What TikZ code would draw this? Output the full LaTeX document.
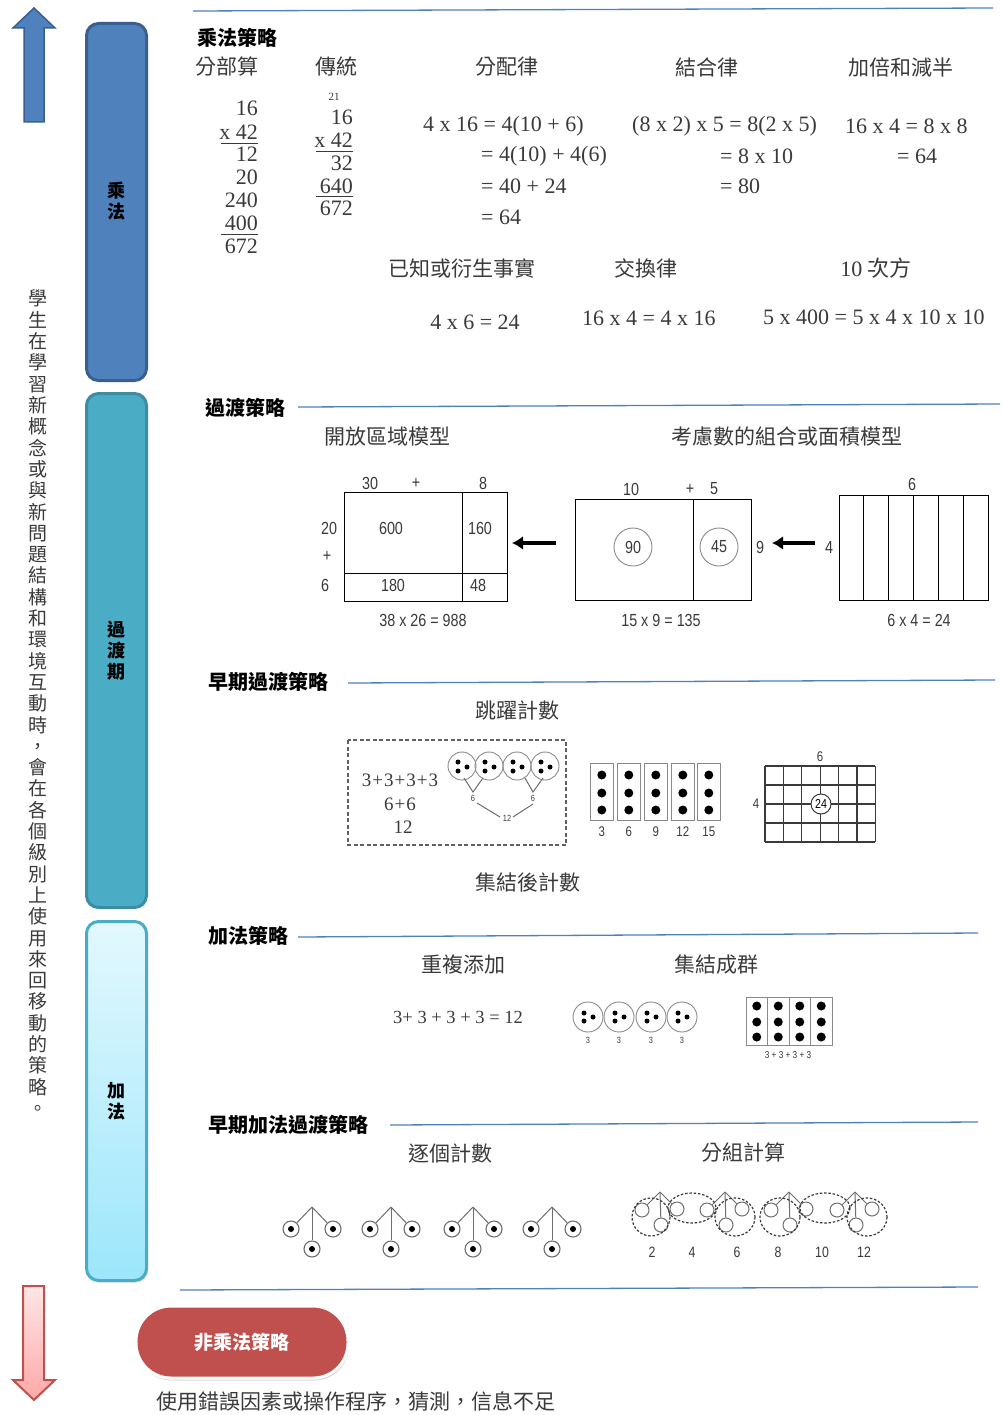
\documentclass[tikz,border=0pt]{standalone}
\usepackage{fontspec}
\setmainfont{Liberation Serif}
\setsansfont{Liberation Sans}
\newfontfamily\cjk{Noto Sans CJK TC}
\newfontfamily\areafont{Liberation Sans}[FakeStretch=0.82]
\usetikzlibrary{shadows,arrows.meta}

\definecolor{mulblue}{HTML}{4F81BD}
\definecolor{mulblueD}{HTML}{3A5F8E}
\definecolor{tranteal}{HTML}{4BACC6}
\definecolor{tranD}{HTML}{3C8DA3}
\definecolor{addtop}{HTML}{E3F8FE}
\definecolor{addbot}{HTML}{9CE6FB}
\definecolor{addedge}{HTML}{4BACC6}
\definecolor{rulecol}{HTML}{4F81BD}
\definecolor{pillred}{HTML}{C0504D}
\definecolor{pinktop}{HTML}{FFE6E6}
\definecolor{pinkbot}{HTML}{FFA8A8}
\definecolor{inkgray}{HTML}{3A3A3A}
\definecolor{ringgray}{HTML}{8A8A8A}

\begin{document}
\begin{tikzpicture}[x=1pt,y=-1pt,
  hdr/.style={font=\cjk\bfseries\fontsize{20}{20}\selectfont, anchor=west, inner sep=0},
  lbl/.style={font=\cjk\fontsize{21}{21}\selectfont, inner sep=0, text=inkgray},
  eq/.style={font=\fontsize{22}{22}\selectfont, inner sep=0, text=inkgray},
  small/.style={font=\fontsize{11}{11}\selectfont, inner sep=0, text=inkgray},
  area/.style={font=\areafont\fontsize{17.5}{17.5}\selectfont, inner sep=0, text=inkgray},
  tiny/.style={font=\areafont\fontsize{11}{11}\selectfont, inner sep=0, text=inkgray},
  rulel/.style={draw=rulecol, line width=1.3pt},
  barlbl/.style={font=\cjk\bfseries\fontsize{18}{21}\selectfont, align=center, inner sep=0},
  ring/.style={circle, draw=ringgray, line width=0.9pt, inner sep=0},
  dotc/.style={circle, fill=black, inner sep=0, minimum size=#1},
  bigarrow/.style={line width=3.5pt, -{Latex[length=11pt,width=14pt]}},
  twig/.style={draw=ringgray!80!black, line width=1pt},
  grp/.style={draw=inkgray, line width=1.2pt, dash pattern=on 2.5pt off 1.8pt}
]
\useasboundingbox (0,0) rectangle (1003,1415);
\fill[white] (0,0) rectangle (1003,1415);

% ---------- side arrows ----------
\draw[fill=mulblue, draw=mulblueD, line width=1.5pt]
  (24,122) -- (24,28) -- (13,28) -- (34,8) -- (55,28) -- (44,28) -- (44,122) -- cycle;
\draw[top color=pinktop, bottom color=pinkbot, draw=pillred, line width=2pt]
  (23,1286) -- (44,1286) -- (44,1380) -- (55,1380) -- (34,1400) -- (13,1380) -- (23,1380) -- cycle;

% ---------- vertical caption ----------
\node[font=\cjk\fontsize{19}{21.3}\selectfont, align=center, inner sep=0, anchor=north, text=inkgray] (side) at (38,290)
 {學\\生\\在\\學\\習\\新\\概\\念\\或\\與\\新\\問\\題\\結\\構\\和\\環\\境\\互\\動\\時\\，\\會\\在\\各\\個\\級\\別\\上\\使\\用\\來\\回\\移\\動\\的\\策\\略\\。};

% ---------- level bars ----------
\draw[fill=mulblue, draw=mulblueD, line width=3pt, rounded corners=12pt] (86.5,23.5) rectangle (146.5,380.5);
\node[barlbl] (bmul) at (116,201) {乘\\法};
\draw[fill=tranteal, draw=tranD, line width=3pt, rounded corners=12pt] (86.5,393.5) rectangle (146.5,907.5);
\node[barlbl] (btran) at (116,651) {過\\渡\\期};
\draw[top color=addtop, bottom color=addbot, draw=addedge, line width=3pt, rounded corners=12pt,
      drop shadow={opacity=0.25, shadow xshift=1.5pt, shadow yshift=-2pt}] (86.5,921.5) rectangle (146.5,1280.5);
\node[barlbl] (badd) at (116,1101) {加\\法};

% ---------- multiplication strategies ----------
\draw[rulel] (193,11) -- (993,8);
\node[hdr] (hmul) at (197,38) {乘法策略};
\node[lbl] (t1) at (227,67) {分部算};
\node[lbl] (t2) at (336,67) {傳統};
\node[lbl] (t3) at (507,67) {分配律};
\node[lbl] (t4) at (707,67) {結合律};
\node[lbl] (t5) at (901,67) {加倍和減半};

% partial products
\foreach \t/\y [count=\i] in {16/108, x 42/132, 12/154, 20/177, 240/200, 400/223, 672/246}
  \node[eq, anchor=east] (pp\i) at (258,\y) {\t};
\draw[inkgray, line width=1pt] (221,144) -- (258,144);
\draw[inkgray, line width=1pt] (221,235) -- (258,235);

% standard algorithm
\node[small] (carry) at (334,97) {21};
\foreach \t/\y [count=\i] in {16/117, x 42/140, 32/163, 640/186, 672/208}
  \node[eq, anchor=east] (sa\i) at (353,\y) {\t};
\draw[inkgray, line width=1pt] (316,152) -- (353,152);
\draw[inkgray, line width=1pt] (316,197) -- (353,197);

% distributive
\node[eq, anchor=west] (d1) at (423,126) {4 x 16 = 4(10 + 6)};
\node[eq, anchor=west] (d2) at (481,156) {= 4(10) + 4(6)};
\node[eq, anchor=west] (d3) at (481,186) {= 40 + 24};
\node[eq, anchor=west] (d4) at (481,217) {= 64};

% associative
\node[eq, anchor=west] (a1) at (632,126) {(8 x 2) x 5 = 8(2 x 5)};
\node[eq, anchor=west] (a2) at (720,156) {= 8 x 10};
\node[eq, anchor=west] (a3) at (720,186) {= 80};

% doubling and halving
\node[eq, anchor=west] (h1) at (845,126) {16 x 4 = 8 x 8};
\node[eq, anchor=west] (h2) at (897,156) {= 64};

\node[lbl] (t6) at (462,268) {已知或衍生事實};
\node[lbl] (t7) at (646,268) {交換律};
\node[lbl] (t8) at (876,268) {\fontsize{22}{22}\rmfamily 10 \cjk 次方};
\node[eq] (k1) at (475,322) {4 x 6 = 24};
\node[eq, anchor=west] (k2) at (582,318) {16 x 4 = 4 x 16};
\node[eq, anchor=west] (k3) at (763,317) {5 x 400 = 5 x 4 x 10 x 10};

% ---------- transition strategies ----------
\draw[rulel] (298,407) -- (1000,404);
\node[hdr] (htran) at (205,408) {過渡策略};
\node[lbl] (t9) at (387,437) {開放區域模型};
\node[lbl] (t10) at (787,437) {考慮數的組合或面積模型};

% open area model 38 x 26
\draw[line width=1pt] (344,492) rectangle (507,601);
\draw[line width=1pt] (462,492) -- (462,601);
\draw[line width=1pt] (344,573) -- (507,573);
\node[area] (o1) at (370,483) {30};
\node[area] (o2) at (416,483) {+};
\node[area] (o3) at (483,483) {8};
\node[area] (o4) at (329,528) {20};
\node[area] (o5) at (327,556) {+};
\node[area] (o6) at (325,585) {6};
\node[area] (o7) at (391,528) {600};
\node[area] (o8) at (480,528) {160};
\node[area] (o9) at (393,585) {180};
\node[area] (o10) at (478,585) {48};
\node[area] (o11) at (423,620) {38 x 26 = 988};

\coordinate (ar1s) at (556,543);
\coordinate (ar1e) at (512,543);
\draw[bigarrow] (ar1s) -- (ar1e);

% area model 15 x 9
\draw[line width=1pt] (575,499) rectangle (751,600);
\draw[line width=1pt] (693,499) -- (693,600);
\node[area] (m1) at (631,489) {10};
\node[area] (m2) at (690,489) {+};
\node[area] (m3) at (714,489) {5};
\node[ring, minimum size=38pt, area] (m4) at (633,547) {90};
\node[ring, minimum size=38pt, area] (m5) at (719,547) {45};
\node[area] (m6) at (760,547) {9};
\node[area] (m7) at (661,620) {15 x 9 = 135};

\coordinate (ar2s) at (815,543);
\coordinate (ar2e) at (772,543);
\draw[bigarrow] (ar2s) -- (ar2e);

% array model 6 x 4
\draw[line width=1pt] (839,495) rectangle (988,600);
\foreach \k in {1,...,5}
  \draw[line width=1pt] ({839+\k*24.83},495) -- ({839+\k*24.83},600);
\node[area] (r1) at (829,547) {4};
\node[area] (r2) at (912,484) {6};
\node[area] (r3) at (919,620) {6 x 4 = 24};

% ---------- early transition strategies ----------
\draw[rulel] (348,683) -- (995,680);
\node[hdr] (hearly) at (208,682) {早期過渡策略};
\node[lbl] (t11) at (517,710) {跳躍計數};
\node[lbl] (t12) at (528,882) {集結後計數};

\draw[inkgray!80, line width=1.3pt, dash pattern=on 4pt off 2.5pt] (348,740) rectangle (566,845);
\node[eq, font=\fontsize{19}{19}\selectfont] (s1) at (400,780) {3\kern1pt+\kern1pt3\kern1pt+\kern1pt3\kern1pt+\kern1pt3};
\node[eq, font=\fontsize{19}{19}\selectfont] (s2) at (400,804) {6\kern1pt+\kern1pt6};
\node[eq, font=\fontsize{19}{19}\selectfont] (s3) at (403,827) {12};
\foreach \cx [count=\i] in {462,489,517,545} {
  \node[ring, minimum size=28pt] (sk\i) at (\cx,766) {};
  \node[dotc=5pt] at (\cx-4,762) {};
  \node[dotc=5pt] at (\cx-4,771) {};
  \node[dotc=5pt] at (\cx+5,767) {};
}
\node[tiny, font=\areafont\fontsize{9}{9}\selectfont] (six1) at (473,798) {6};
\node[tiny, font=\areafont\fontsize{9}{9}\selectfont] (six2) at (533,798) {6};
\node[tiny, font=\areafont\fontsize{9}{9}\selectfont] (twelve) at (507,818) {12};
\draw[twig] (464,778) -- (473,792) -- (483,778);
\draw[twig] (525,778) -- (533,792) -- (543,778);
\draw[twig] (477,803) -- (500,817);
\draw[twig] (513,817) -- (533,804);

% dot columns
\foreach \x/\v [count=\i] in {590/3,617/6,644/9,671/12,697/15} {
  \draw[ringgray, line width=1pt] (\x,763) rectangle (\x+23.5,820);
  \foreach \yy in {775,793,810}
    \node[dotc=9pt] at (\x+11.8,\yy) {};
  \node[area, font=\areafont\fontsize{14}{14}\selectfont] (cl\i) at (\x+11.8,832) {\v};
}

% grid 6 x 4
\foreach \k in {0,...,6}
  \draw[inkgray, line width=1.2pt] ({765+\k*18.4},766) -- ({765+\k*18.4},842);
\foreach \k in {0,...,4}
  \draw[inkgray, line width=1.2pt] (765,{766+\k*19}) -- (875.4,{766+\k*19});
\node[area, font=\areafont\fontsize{14}{14}\selectfont] (g1) at (820,757) {6};
\node[area, font=\areafont\fontsize{14}{14}\selectfont] (g2) at (756,804) {4};
\node[circle, draw=inkgray, fill=white, line width=1pt, minimum size=20pt, inner sep=0,
      font=\areafont\fontsize{13}{13}\selectfont] (g3) at (821,804) {24};

% ---------- addition strategies ----------
\draw[rulel] (298,937) -- (978,933);
\node[hdr] (hadd) at (208,936) {加法策略};
\node[lbl] (t13) at (463,965) {重複添加};
\node[lbl] (t14) at (716,965) {集結成群};
\node[eq, anchor=west, font=\fontsize{18.5}{18.5}\selectfont] (rep) at (393,1017) {3+ 3 + 3 + 3 = 12};

\foreach \cx [count=\i] in {588,619,651,682} {
  \node[ring, minimum size=30pt] (gc\i) at (\cx,1017) {};
  \node[dotc=5pt] at (\cx-4,1013) {};
  \node[dotc=5pt] at (\cx-4,1021) {};
  \node[dotc=5pt] at (\cx+5,1017) {};
  \node[tiny, font=\areafont\fontsize{9}{9}\selectfont] (gl\i) at (\cx,1040) {3};
}
\foreach \k in {0,...,3} {
  \draw[ringgray, line width=1pt] ({746+\k*21.5},997) rectangle ({746+(\k+1)*21.5},1045);
  \foreach \yy in {1006,1022,1037}
    \node[dotc=9pt] at ({746+\k*21.5+10.75},\yy) {};
}
\node[tiny, font=\areafont\fontsize{10}{10}\selectfont] (sum4) at (788,1055) {3 + 3 + 3 + 3};

% ---------- early addition strategies ----------
\draw[rulel] (390,1125) -- (978,1122);
\node[hdr] (hearlyadd) at (208,1125) {早期加法過渡策略};
\node[lbl] (t15) at (450,1153) {逐個計數};
\node[lbl] (t16) at (743,1153) {分組計算};

% counting one by one
\foreach \ax [count=\i] in {312,391,473,552} {
  \coordinate (ap\i) at (\ax,1207);
  \node[circle, draw=ringgray!80!black, line width=1.1pt, minimum size=16pt, inner sep=0] (cl\i) at (\ax-21,1229) {};
  \node[circle, draw=ringgray!80!black, line width=1.1pt, minimum size=16pt, inner sep=0] (cr\i) at (\ax+21,1229) {};
  \node[circle, draw=ringgray!80!black, line width=1.1pt, minimum size=16pt, inner sep=0] (cb\i) at (\ax,1249) {};
  \node[dotc=6pt] at (cl\i) {};
  \node[dotc=6pt] at (cr\i) {};
  \node[dotc=6pt] at (cb\i) {};
  \draw[twig] (ap\i) -- (cl\i);
  \draw[twig] (ap\i) -- (cr\i);
  \draw[twig] (ap\i) -- (cb\i);
}

% counting in groups
\foreach \ax [count=\i] in {660,725,789,855} {
  \coordinate (gp\i) at (\ax,1192);
  \node[circle, draw=ringgray!80!black, line width=1pt, minimum size=14pt, inner sep=0] (ql\i) at (\ax-18,1210) {};
  \node[circle, draw=ringgray!80!black, line width=1pt, minimum size=14pt, inner sep=0] (qr\i) at (\ax+17,1209) {};
  \node[circle, draw=ringgray!80!black, line width=1pt, minimum size=14pt, inner sep=0] (qb\i) at (\ax+1,1225) {};
  \draw[twig] (gp\i) -- (ql\i);
  \draw[twig] (gp\i) -- (qr\i);
  \draw[twig] (gp\i) -- (qb\i);
}
\draw[grp] (651,1217) ellipse [x radius=19, y radius=19];
\draw[grp] (692,1208) ellipse [x radius=24, y radius=15];
\draw[grp] (735,1217) ellipse [x radius=20, y radius=19];
\draw[grp] (780,1217) ellipse [x radius=20, y radius=19];
\draw[grp] (825,1208) ellipse [x radius=25, y radius=15];
\draw[grp] (867,1217) ellipse [x radius=20, y radius=19];
\foreach \x/\v [count=\i] in {652/2,692/4,737/6,778/8,822/10,864/12}
  \node[area, font=\areafont\fontsize{15}{15}\selectfont] (gn\i) at (\x,1252) {\v};

% ---------- non-multiplicative ----------
\draw[rulel] (180,1290) -- (978,1287);
\node[fill=pillred, draw=white, line width=3pt, rounded corners=35pt, minimum width=212pt, minimum height=72pt,
      drop shadow={opacity=0.3, shadow xshift=1pt, shadow yshift=-2.5pt},
      font=\cjk\bfseries\fontsize{19}{19}\selectfont, text=white] (pill) at (242,1342) {非乘法策略};
\node[lbl] (cap) at (356,1402) {使用錯誤因素或操作程序，猜測，信息不足};

\end{tikzpicture}
\end{document}
